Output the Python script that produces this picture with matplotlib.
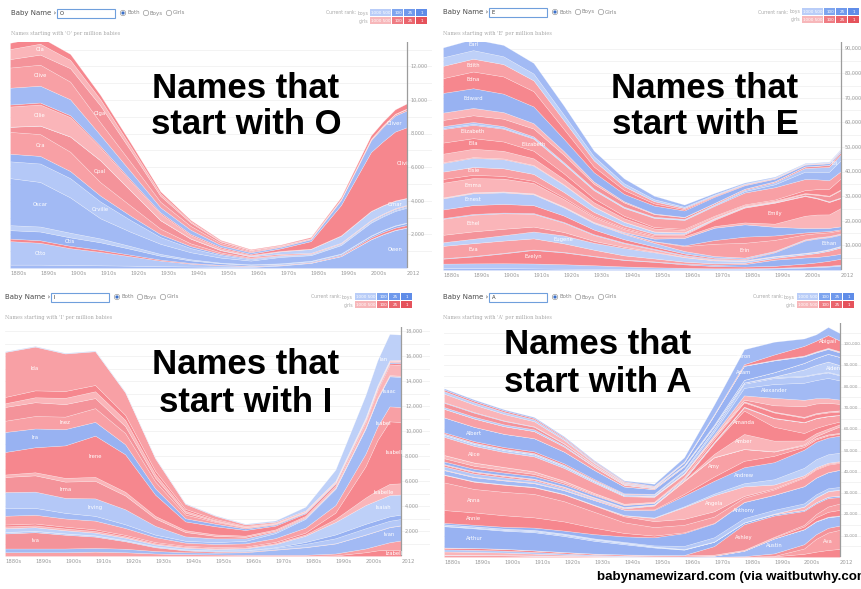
import matplotlib
matplotlib.use("Agg")
import matplotlib.pyplot as plt
from matplotlib.patches import Rectangle, Circle
import numpy as np

W, H = 861, 589

# decade points plus the last few single years
YEARS = [1880, 1890, 1900, 1910, 1920, 1930, 1940, 1950, 1960, 1970, 1980, 1990, 2000, 2004, 2008, 2012]
TICK_YEARS = [1880, 1890, 1900, 1910, 1920, 1930, 1940, 1950, 1960, 1970, 1980, 1990, 2000, 2012]
TICK_LABELS = ["1880s", "1890s", "1900s", "1910s", "1920s", "1930s", "1940s", "1950s",
               "1960s", "1970s", "1980s", "1990s", "2000s", "2012"]

# ---------------- O ----------------  (top of stack -> bottom, per million babies)
O_NAMES = ["Odessa", "Ola", "Olga", "Olive", "Oliver", "Olivia", "Ollie", "Omar", "Opal", "Ora",
           "Orrin", "Orville", "Oscar", "Otha", "Otis", "Ottilie", "Otto", "Owen"]
O_SEX = ["g", "g", "g", "g", "b", "g", "g", "b", "g", "g", "b", "b", "b", "b", "b", "g", "b", "b"]
O_VALS = [
    [370, 400, 350, 250, 200, 120, 70, 50, 40, 40, 60, 100, 200, 230, 260, 300],
    [600, 650, 500, 380, 250, 150, 80, 40, 20, 15, 10, 10, 10, 10, 10, 10],
    [500, 600, 800, 1000, 700, 350, 200, 90, 60, 40, 30, 20, 20, 20, 20, 20],
    [1200, 1250, 1050, 750, 550, 330, 230, 120, 60, 40, 30, 40, 60, 70, 80, 90],
    [1000, 1000, 950, 650, 500, 300, 250, 120, 100, 90, 110, 300, 700, 850, 950, 1000],
    [120, 120, 110, 100, 90, 80, 70, 70, 60, 150, 450, 1800, 3500, 3800, 4100, 4200],
    [1200, 1250, 1150, 750, 550, 380, 200, 100, 50, 30, 20, 20, 20, 20, 20, 20],
    [10, 10, 10, 10, 10, 10, 10, 20, 40, 150, 230, 420, 520, 480, 440, 400],
    [300, 500, 900, 1300, 900, 500, 280, 130, 70, 60, 40, 30, 30, 30, 30, 30],
    [1300, 1300, 1150, 800, 600, 330, 170, 90, 50, 30, 20, 20, 20, 20, 20, 20],
    [450, 450, 420, 350, 260, 170, 110, 70, 50, 40, 40, 50, 60, 60, 60, 60],
    [1000, 1100, 1150, 1000, 700, 400, 250, 150, 80, 50, 40, 40, 50, 60, 60, 60],
    [2800, 2650, 2100, 1200, 850, 600, 420, 300, 220, 380, 330, 500, 760, 800, 850, 880],
    [300, 300, 280, 230, 170, 110, 70, 40, 30, 30, 30, 30, 30, 30, 30, 30],
    [500, 520, 500, 450, 350, 230, 150, 90, 60, 50, 50, 60, 90, 100, 110, 120],
    [150, 150, 140, 120, 90, 60, 40, 30, 20, 20, 30, 50, 100, 120, 130, 140],
    [1400, 1300, 1000, 800, 560, 330, 170, 90, 50, 30, 20, 20, 20, 20, 20, 20],
    [200, 200, 180, 160, 140, 110, 90, 70, 60, 150, 300, 700, 1700, 2000, 2250, 2400],
]
O_LABELS = [("Ola", 1890), ("Olive", 1890), ("Ollie", 1890), ("Ora", 1890), ("Oscar", 1890),
            ("Otto", 1890), ("Otis", 1900), ("Olga", 1910), ("Opal", 1910), ("Orville", 1910),
            ("Olivia", 2011), ("Oliver", 2008), ("Omar", 2008), ("Owen", 2008)]

# ---------------- E ----------------
E_NAMES = ["Earl", "Edgar", "Edith", "Edna", "Edward", "Effie", "Eleanor", "Eli", "Elijah",
           "Elizabeth", "Ella", "Ellen", "Ellie", "Elmer", "Elsie", "Emily", "Emma", "Eric",
           "Erica", "Erin", "Ernest", "Esther", "Ethan", "Ethel", "Etta", "Eugene", "Eva",
           "Evan", "Evelyn", "Everett", "Ezra"]
E_SEX = ["b", "b", "g", "g", "b", "g", "g", "b", "b", "g", "g", "g", "g", "b", "g", "g", "g", "b",
         "g", "g", "b", "g", "b", "g", "g", "b", "g", "b", "g", "b", "b"]
E_VALS = [
    [4000, 4500, 4600, 4300, 3700, 2300, 2000, 1400, 900, 600, 400, 300, 200, 200, 200, 200],
    [3500, 3500, 3200, 2800, 2300, 1700, 1200, 800, 500, 350, 250, 200, 180, 200, 230, 300],
    [5000, 5200, 5000, 4400, 3500, 2500, 1500, 900, 500, 300, 250, 200, 150, 150, 150, 150],
    [6000, 6800, 7000, 6200, 4000, 2300, 1600, 900, 500, 300, 200, 150, 120, 120, 120, 120],
    [8000, 8000, 7500, 6800, 5000, 3800, 3000, 3200, 2600, 2500, 1400, 1000, 700, 650, 600, 550],
    [3000, 3000, 2700, 2200, 1500, 900, 500, 250, 120, 80, 60, 50, 50, 50, 50, 50],
    [2500, 2700, 3000, 3200, 3000, 2000, 1700, 1100, 700, 500, 400, 400, 600, 700, 800, 900],
    [800, 800, 700, 600, 500, 400, 300, 250, 250, 300, 500, 800, 1500, 1800, 2000, 2400],
    [400, 400, 350, 300, 250, 200, 200, 200, 200, 300, 600, 1200, 3000, 3000, 3400, 4500],
    [5500, 5400, 5200, 4900, 3800, 3300, 3200, 3700, 3600, 4000, 4800, 5000, 4500, 4000, 3500, 2900],
    [4500, 4300, 3800, 3100, 2300, 1600, 1000, 600, 400, 300, 300, 400, 1200, 2000, 2800, 4500],
    [3500, 3400, 3100, 2700, 2200, 1700, 1400, 1200, 1000, 700, 500, 400, 300, 300, 300, 300],
    [300, 300, 300, 250, 200, 150, 100, 80, 60, 60, 80, 150, 600, 1200, 2000, 3000],
    [3500, 3700, 3700, 3400, 2900, 2100, 1400, 900, 550, 350, 250, 200, 150, 150, 150, 150],
    [3000, 3200, 3100, 2800, 2200, 1600, 1000, 600, 400, 300, 200, 150, 150, 150, 150, 150],
    [1500, 1300, 1100, 900, 700, 500, 450, 450, 600, 2500, 6000, 8500, 8000, 6500, 5000, 4000],
    [6000, 5800, 5200, 4200, 3000, 2000, 1300, 900, 700, 700, 800, 1300, 5000, 5500, 5500, 7500],
    [100, 100, 100, 100, 100, 150, 300, 1000, 3000, 5000, 5000, 3500, 1800, 1500, 1300, 1200],
    [100, 100, 100, 100, 100, 100, 100, 100, 300, 1500, 2500, 1800, 800, 600, 500, 400],
    [200, 200, 200, 200, 200, 200, 300, 600, 2000, 5000, 6000, 4500, 2000, 1700, 1500, 1300],
    [4500, 4800, 4700, 4400, 3300, 2600, 2200, 1500, 1000, 700, 500, 300, 250, 250, 250, 250],
    [3500, 3600, 3500, 3200, 2600, 1900, 1300, 900, 600, 400, 300, 250, 250, 250, 250, 250],
    [300, 300, 300, 300, 300, 300, 300, 300, 300, 300, 300, 1500, 5000, 5200, 4800, 4500],
    [6500, 6800, 6300, 5200, 3800, 2400, 1500, 900, 500, 300, 200, 150, 120, 120, 120, 120],
    [3000, 3000, 2600, 2000, 1400, 800, 450, 250, 120, 80, 60, 50, 50, 50, 50, 50],
    [1500, 1800, 2200, 2800, 3200, 2800, 3000, 2500, 1800, 1200, 800, 600, 500, 500, 500, 500],
    [5000, 5200, 5000, 4500, 3500, 2500, 1700, 1200, 800, 600, 500, 700, 1200, 1600, 2000, 2600],
    [200, 200, 200, 200, 200, 200, 200, 200, 300, 500, 1000, 2500, 2500, 2200, 2100, 2000],
    [2000, 2800, 4000, 5500, 4800, 3600, 2600, 2200, 1400, 900, 700, 800, 1300, 1600, 2000, 2400],
    [1800, 1900, 2000, 2000, 1800, 1500, 1100, 800, 600, 400, 300, 300, 300, 300, 350, 400],
    [800, 800, 750, 650, 550, 450, 350, 300, 300, 300, 400, 600, 1000, 1200, 1400, 1800],
]
E_LABELS = [("Earl", 1890), ("Edith", 1890), ("Edna", 1890), ("Edward", 1890),
            ("Elizabeth", 1890), ("Ella", 1890), ("Elsie", 1890), ("Emma", 1890),
            ("Ernest", 1890), ("Ethel", 1890), ("Eva", 1890), ("Evelyn", 1910),
            ("Eugene", 1920), ("Elizabeth", 1910), ("Erin", 1980), ("Emily", 1990),
            ("Ethan", 2008), ("Eli", 2010)]

# ---------------- I ----------------
I_NAMES = ["Ian", "Ida", "Ila", "Imogene", "Ina", "Inez", "Ira", "Irene", "Iris", "Irma",
           "Irving", "Isaac", "Isabel", "Isabella", "Isabelle", "Isaiah", "Ismael", "Israel",
           "Iva", "Ivan", "Ivy", "Izabella"]
I_SEX = ["b", "g", "g", "g", "g", "g", "b", "g", "g", "g", "b", "b", "g", "g", "g", "b", "b", "b",
         "g", "b", "g", "g"]
I_VALS = [
    [50, 50, 50, 50, 50, 50, 50, 50, 50, 100, 300, 900, 1800, 2000, 2100, 2000],
    [3600, 3500, 3000, 2700, 1800, 1000, 400, 250, 120, 80, 60, 50, 50, 50, 50, 50],
    [500, 550, 550, 500, 400, 250, 150, 80, 50, 30, 20, 20, 20, 20, 20, 20],
    [300, 400, 500, 550, 500, 300, 150, 80, 40, 30, 20, 20, 20, 20, 20, 20],
    [1100, 1100, 1000, 800, 550, 300, 150, 70, 40, 30, 20, 20, 30, 30, 30, 30],
    [900, 1000, 1000, 1100, 900, 550, 300, 150, 80, 50, 40, 50, 60, 60, 60, 60],
    [1600, 1500, 1300, 1100, 800, 500, 250, 200, 120, 90, 70, 70, 80, 80, 80, 80],
    [1800, 2000, 2600, 3300, 3000, 1700, 700, 650, 450, 300, 200, 150, 130, 130, 130, 130],
    [200, 250, 300, 320, 300, 200, 150, 120, 100, 100, 100, 150, 400, 600, 800, 900],
    [1200, 1300, 1300, 1400, 1100, 600, 350, 200, 120, 80, 60, 50, 50, 50, 50, 50],
    [1300, 1300, 1200, 1400, 1200, 700, 350, 300, 200, 120, 80, 60, 50, 50, 50, 50],
    [600, 550, 450, 380, 300, 200, 150, 150, 200, 400, 700, 1300, 2000, 2200, 2400, 2400],
    [700, 700, 650, 700, 550, 400, 250, 250, 250, 300, 400, 600, 1000, 1100, 1200, 1200],
    [150, 150, 150, 130, 110, 90, 80, 80, 80, 100, 150, 500, 2500, 4000, 5000, 4900],
    [150, 150, 140, 130, 110, 90, 80, 70, 70, 80, 100, 250, 600, 800, 900, 900],
    [300, 280, 250, 220, 200, 150, 130, 120, 150, 250, 500, 1000, 1500, 1600, 1700, 1600],
    [20, 20, 20, 20, 20, 20, 20, 20, 30, 50, 150, 300, 350, 350, 350, 350],
    [100, 100, 90, 80, 70, 60, 60, 70, 80, 120, 250, 400, 500, 500, 500, 500],
    [1200, 1300, 1100, 900, 600, 300, 150, 80, 50, 30, 20, 20, 20, 20, 20, 20],
    [300, 300, 300, 300, 280, 200, 150, 150, 200, 400, 600, 800, 1100, 1150, 1200, 1200],
    [300, 300, 300, 350, 300, 200, 150, 120, 100, 100, 100, 150, 300, 400, 600, 800],
    [0, 0, 0, 0, 0, 0, 0, 0, 0, 0, 0, 50, 300, 450, 500, 450],
]
I_LABELS = [("Ida", 1890), ("Inez", 1900), ("Ira", 1890), ("Irene", 1910), ("Irma", 1900),
            ("Irving", 1910), ("Iva", 1890), ("Ian", 2006), ("Isaac", 2008), ("Isabel", 2006),
            ("Isabella", 2010), ("Isabelle", 2006), ("Isaiah", 2006), ("Ivan", 2008),
            ("Izabella", 2010)]

# ---------------- A ----------------
A_NAMES = ["Aaron", "Abigail", "Abraham", "Ada", "Adam", "Addie", "Adolph", "Adrian", "Agnes",
           "Aiden", "Albert", "Alberta", "Alex", "Alexander", "Alexandra", "Alexis", "Alfred",
           "Alice", "Allison", "Alma", "Alta", "Alvin", "Alyssa", "Amanda", "Amber", "Amelia",
           "Amos", "Amy", "Andrea", "Andrew", "Angel", "Angela", "Ann", "Anna", "Annie",
           "Anthony", "Antonio", "Archie", "Arianna", "Arnold", "Arthur", "Ashley", "Aubrey",
           "Audrey", "August", "Augusta", "Austin", "Autumn", "Ava", "Avery"]
A_SEX = ["b", "g", "b", "g", "b", "g", "b", "b", "g",
         "b", "b", "g", "b", "b", "g", "g", "b",
         "g", "g", "g", "g", "b", "g", "g", "g", "g",
         "b", "g", "g", "b", "b", "g", "g", "g", "g",
         "b", "b", "b", "g", "b", "b", "g", "g",
         "g", "b", "g", "b", "g", "g", "g"]
A_VALS = [
    [600, 600, 550, 500, 450, 400, 400, 900, 2000, 4500, 7000, 6000, 3500, 3000, 3800, 3500],
    [700, 700, 650, 600, 500, 400, 300, 200, 150, 200, 600, 2500, 4500, 5000, 6000, 5000],
    [1200, 1100, 1000, 900, 700, 500, 350, 250, 180, 150, 150, 200, 300, 300, 300, 300],
    [4000, 3500, 3000, 2400, 1600, 900, 450, 250, 150, 100, 80, 80, 150, 200, 250, 300],
    [300, 300, 250, 200, 180, 150, 150, 200, 1200, 4500, 6500, 5500, 3000, 2500, 2200, 2000],
    [2000, 1900, 1600, 1200, 800, 450, 250, 120, 60, 40, 30, 30, 50, 60, 70, 80],
    [800, 800, 800, 800, 500, 200, 100, 50, 20, 10, 5, 5, 5, 5, 5, 5],
    [50, 50, 50, 50, 50, 50, 80, 150, 300, 600, 1200, 2000, 3000, 3300, 3600, 3800],
    [4000, 3900, 3600, 3300, 2400, 1500, 800, 400, 200, 100, 60, 40, 30, 30, 30, 30],
    [0, 0, 0, 0, 0, 0, 0, 0, 0, 0, 0, 300, 3000, 4000, 4800, 4500],
    [7000, 6700, 6200, 6200, 5500, 4300, 3200, 2200, 1600, 1200, 500, 350, 250, 250, 250, 250],
    [600, 700, 800, 800, 700, 450, 250, 120, 60, 30, 20, 20, 20, 20, 20, 20],
    [100, 100, 100, 100, 100, 100, 150, 300, 600, 1200, 2000, 2800, 3000, 2800, 2600, 2400],
    [400, 400, 400, 400, 400, 400, 400, 500, 800, 1500, 3500, 6500, 8000, 8500, 9500, 9000],
    [50, 50, 50, 50, 50, 50, 80, 150, 300, 800, 2000, 3500, 3000, 2500, 2200, 2000],
    [0, 0, 0, 0, 0, 0, 0, 0, 0, 100, 800, 3000, 5000, 4500, 4000, 3000],
    [1000, 1000, 1000, 1000, 900, 700, 500, 350, 250, 150, 100, 80, 80, 80, 80, 80],
    [8500, 7800, 7000, 7000, 6000, 4800, 3500, 2300, 1500, 1000, 400, 300, 350, 400, 450, 500],
    [50, 50, 50, 50, 50, 50, 100, 200, 400, 1300, 2000, 2500, 2000, 1800, 1600, 1500],
    [1500, 1500, 1400, 1200, 900, 600, 350, 250, 150, 80, 60, 50, 50, 50, 50, 50],
    [1500, 1400, 1200, 1000, 700, 400, 200, 100, 50, 30, 20, 20, 20, 20, 20, 20],
    [1200, 1200, 1200, 1200, 1100, 1000, 900, 700, 500, 350, 250, 150, 100, 100, 100, 100],
    [0, 0, 0, 0, 0, 0, 0, 0, 30, 200, 1500, 4000, 5000, 4500, 3800, 3000],
    [300, 300, 300, 250, 200, 150, 150, 150, 400, 5000, 11000, 6500, 3500, 2500, 2000, 1300],
    [30, 30, 30, 30, 30, 30, 30, 30, 100, 1500, 7000, 5000, 1800, 1400, 1200, 1000],
    [800, 750, 700, 600, 450, 300, 200, 150, 100, 80, 70, 100, 400, 900, 1500, 3000],
    [1500, 1400, 1200, 1000, 800, 500, 300, 200, 100, 60, 40, 30, 30, 30, 30, 30],
    [200, 200, 200, 200, 200, 300, 500, 1800, 6000, 9000, 5500, 2000, 800, 600, 500, 400],
    [50, 50, 50, 50, 50, 50, 100, 300, 800, 2000, 3000, 3000, 1300, 1100, 1000, 900],
    [2000, 1900, 1800, 1700, 1700, 2200, 2500, 3500, 5000, 6000, 7500, 8000, 8500, 8200, 7800, 8000],
    [50, 50, 50, 50, 50, 50, 100, 200, 400, 800, 1500, 2500, 3500, 3800, 4000, 4000],
    [200, 200, 200, 200, 200, 250, 500, 1500, 5500, 7500, 4500, 1800, 700, 600, 500, 400],
    [3500, 3400, 3300, 3100, 3200, 3000, 2800, 2800, 2800, 2500, 800, 500, 400, 400, 400, 400],
    [13000, 11000, 11000, 11000, 9500, 7500, 5000, 4000, 3500, 3000, 2000, 2500, 4000, 3800, 3500, 3200],
    [6000, 5800, 5400, 4800, 4300, 3000, 1600, 800, 400, 200, 100, 80, 80, 80, 80, 80],
    [700, 750, 850, 1100, 1400, 2000, 2600, 3800, 6000, 6500, 7500, 7000, 8000, 7800, 7500, 8000],
    [100, 100, 100, 120, 150, 200, 300, 500, 1500, 2000, 2000, 1800, 1500, 1400, 1300, 1200],
    [500, 450, 400, 350, 300, 250, 200, 100, 80, 60, 50, 50, 80, 100, 150, 200],
    [0, 0, 0, 0, 0, 0, 0, 0, 0, 0, 0, 200, 1500, 2200, 2500, 2700],
    [300, 400, 500, 600, 700, 700, 600, 400, 200, 100, 60, 40, 30, 30, 30, 30],
    [10000, 9200, 8500, 8500, 7500, 6000, 4800, 3500, 2500, 2000, 800, 600, 500, 550, 600, 650],
    [50, 50, 50, 50, 50, 50, 50, 50, 100, 4000, 12000, 10000, 6500, 5000, 4000, 3000],
    [0, 0, 0, 0, 0, 0, 0, 0, 0, 50, 100, 300, 800, 1500, 2500, 3000],
    [800, 800, 800, 700, 600, 500, 500, 500, 500, 400, 300, 400, 1200, 1800, 2300, 2600],
    [1000, 1000, 900, 800, 600, 400, 250, 150, 80, 50, 50, 50, 100, 150, 200, 250],
    [1500, 1400, 1200, 900, 600, 300, 150, 80, 40, 20, 10, 10, 10, 10, 10, 10],
    [100, 100, 100, 100, 100, 100, 100, 100, 150, 500, 2500, 7000, 7000, 6000, 5000, 4500],
    [0, 0, 0, 0, 0, 0, 0, 0, 0, 50, 300, 1200, 2000, 2200, 2200, 2000],
    [1000, 900, 800, 600, 400, 250, 150, 80, 60, 40, 50, 200, 2500, 6000, 8200, 9000],
    [0, 0, 0, 0, 0, 0, 0, 0, 0, 0, 50, 300, 1500, 2500, 3300, 3800],
]
A_LABELS = [("Albert", 1890), ("Alice", 1890), ("Anna", 1890), ("Annie", 1890),
            ("Arthur", 1890), ("Aaron", 1980), ("Abigail", 2008), ("Adam", 1980),
            ("Alexander", 1990), ("Amanda", 1980), ("Amber", 1980), ("Amy", 1970),
            ("Andrew", 1980), ("Angela", 1970), ("Anthony", 1980), ("Ashley", 1980),
            ("Austin", 1990), ("Ava", 2008), ("Aiden", 2010)]

GIRL_COLS = ["#f6878e", "#f8a0a5", "#f4939a", "#fab5b9"]
BOY_COLS = ["#a2baf4", "#b4c8f7", "#98b2f2", "#bed0f8"]


def fig_rect(x0, y0, x1, y1):
    return [x0 / W, 1 - y1 / H, (x1 - x0) / W, (y1 - y0) / H]


def draw_panel(fig, box, xend, ymax, step, names, sexes, vals, labels, tick_fs=3.5):
    ax = fig.add_axes(fig_rect(*box))
    ax.set_xlim(1880, xend)
    ax.set_ylim(0, ymax)
    for s in ax.spines.values():
        s.set_visible(False)
    ax.set_xticks([])
    ax.set_yticks([])
    for g in np.arange(step / 2, ymax, step / 2):
        ax.axhline(g, color="#eeeeee", lw=0.5, zorder=0)

    base = np.zeros(len(YEARS))
    mids = {}
    gi = bi = 0
    for name, sex, v in reversed(list(zip(names, sexes, vals))):
        top = base + np.array(v, dtype=float)
        if sex == "g":
            col = GIRL_COLS[gi % 4]
            gi += 1
        else:
            col = BOY_COLS[bi % 4]
            bi += 1
        ax.fill_between(YEARS, base, top, facecolor=col, edgecolor=(1, 1, 1, 0.4), lw=0.35, zorder=2)
        mids[name] = (base + top) / 2
        base = top

    for name, yr in labels:
        y = np.interp(yr, YEARS, mids[name])
        ax.text(yr, y, name, color="white", fontsize=3.8, ha="center", va="center",
                clip_on=True, zorder=4)

    ax.axvline(2012, color="#9c9c9c", lw=0.9, zorder=3)
    for v in range(step, int(ymax), step):
        ax.text(2013.2, v, f"{v:,}", fontsize=tick_fs, color="#9a9a9a", va="center", ha="left")
    for yr, lab in zip(TICK_YEARS, TICK_LABELS):
        ax.text(yr, -ymax * 0.012, lab, fontsize=3.8, color="#9a9a9a", ha="left", va="top",
                clip_on=False)
    return ax


def header(ov, x0, yc, letter, rank_x):
    ov.text(x0, yc, "Baby Name \u203a", fontsize=5, color="#4a4a4a", va="center", ha="left")
    ov.add_patch(Rectangle((x0 + 46, yc - 4.5), 58, 9, facecolor="white", edgecolor="#6f9fdc", lw=0.8))
    ov.text(x0 + 49, yc + 0.3, letter, fontsize=3.8, color="#333333", va="center", ha="left")
    ov.add_patch(Circle((x0 + 112, yc), 2.7, facecolor="white", edgecolor="#9a9a9a", lw=0.5))
    ov.add_patch(Circle((x0 + 112, yc), 1.6, facecolor="#3a6fc8", lw=0))
    ov.text(x0 + 116, yc, "Both", fontsize=4, color="#888888", va="center")
    ov.add_patch(Circle((x0 + 135, yc), 2.7, facecolor="white", edgecolor="#9a9a9a", lw=0.5))
    ov.text(x0 + 139, yc, "Boys", fontsize=4, color="#888888", va="center")
    ov.add_patch(Circle((x0 + 158, yc), 2.7, facecolor="white", edgecolor="#9a9a9a", lw=0.5))
    ov.text(x0 + 162, yc, "Girls", fontsize=4, color="#888888", va="center")
    ov.text(x0, yc + 21, f"Names starting with '{letter}' per million babies", fontsize=3.6,
            family="DejaVu Serif", color="#aaaaaa", va="center")

    ov.text(rank_x - 14, yc, "Current rank:", fontsize=3.3, color="#aaaaaa", va="center", ha="right")
    ov.text(rank_x - 2, yc, "boys", fontsize=3.3, color="#aaaaaa", va="center", ha="right")
    ov.text(rank_x - 2, yc + 8, "girls", fontsize=3.3, color="#aaaaaa", va="center", ha="right")
    widths = [22, 12, 12, 12]
    texts = ["1000 500", "100", "25", "1"]
    bcols = ["#b9cdf8", "#7ea5ef", "#6f99ec", "#5f8ce8"]
    gcols = ["#f7b7ba", "#ef7c83", "#ea656d", "#e5525b"]
    x = rank_x
    for w, t, bc, gc in zip(widths, texts, bcols, gcols):
        ov.add_patch(Rectangle((x, yc - 4), w - 0.6, 7.2, facecolor=bc, lw=0))
        ov.add_patch(Rectangle((x, yc + 4), w - 0.6, 7.2, facecolor=gc, lw=0))
        ov.text(x + w / 2, yc - 0.4, t, fontsize=3, color="white", ha="center", va="center")
        ov.text(x + w / 2, yc + 7.6, t, fontsize=3, color="white", ha="center", va="center")
        x += w


fig = plt.figure(figsize=(W / 100, H / 100), dpi=100)
fig.patch.set_facecolor("white")

draw_panel(fig, (10, 42, 432, 268), 2020.3, 13450, 2000, O_NAMES, O_SEX, O_VALS, O_LABELS)
draw_panel(fig, (443, 42, 861, 270), 2018.6, 92700, 10000, E_NAMES, E_SEX, E_VALS, E_LABELS)
draw_panel(fig, (5, 327, 430, 556), 2021.5, 18320, 2000, I_NAMES, I_SEX, I_VALS, I_LABELS)
draw_panel(fig, (444, 323, 861, 557), 2019.0, 109900, 10000, A_NAMES, A_SEX, A_VALS, A_LABELS,
           tick_fs=3.0)

ov = fig.add_axes([0, 0, 1, 1], zorder=10)
ov.set_xlim(0, W)
ov.set_ylim(H, 0)
ov.axis("off")

header(ov, 11, 13, "O", 370)
header(ov, 443, 12, "E", 802)
header(ov, 5, 297, "I", 355)
header(ov, 443, 297, "A", 797)

big = dict(fontsize=25, fontweight="bold", family="Liberation Sans", color="black",
           ha="center", va="center")
ov.text(246, 88, "Names that", **big)
ov.text(246, 125, "start with O", **big)
ov.text(705, 88, "Names that", **big)
ov.text(705, 125, "start with E", **big)
ov.text(246, 365, "Names that", **big)
ov.text(246, 403, "start with I", **big)
ov.text(598, 345, "Names that", **big)
ov.text(598, 382, "start with A", **big)

# credit line runs off the right edge, as in the screenshot
ov.text(597, 577, "babynamewizard.com (via waitbutwhy.com)", fontsize=9.6, fontweight="bold",
        family="Liberation Sans", color="black", ha="left", va="center")

fig.savefig("out.png", dpi=100)
